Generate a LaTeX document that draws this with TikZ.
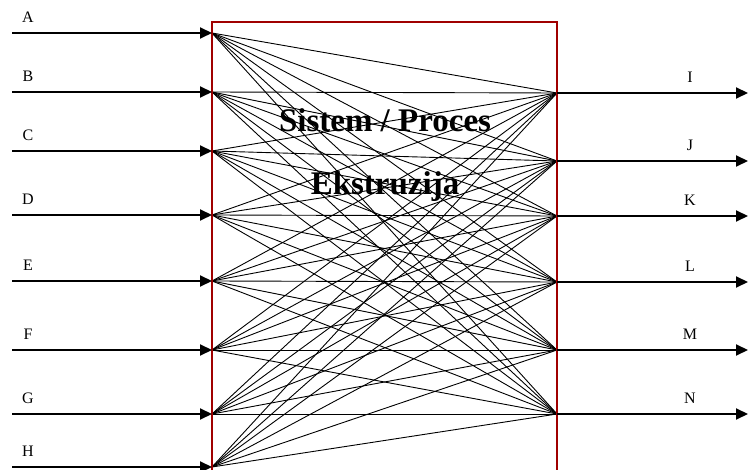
\documentclass[tikz,border=0pt]{standalone}
\usepackage{fontspec}
\setmainfont{Liberation Serif}
\usetikzlibrary{arrows.meta}
\definecolor{boxred}{RGB}{160,0,0}
\tikzset{
  io/.style={line width=2pt, -{Triangle[length=12pt,width=11pt]}},
  link/.style={line width=0.9pt, black},
  frame/.style={line width=2.2pt, boxred},
  lab/.style={font=\fontsize{16}{16}\selectfont, inner sep=0pt},
  title/.style={font=\fontsize{33}{33}\selectfont\bfseries, inner sep=0pt}
}
\begin{document}
\begin{tikzpicture}[x=1pt,y=-1pt]
\useasboundingbox (0,0) rectangle (750,470);
% input coordinates
\foreach \n/\y in {A/33,B/92,C/151,D/215,E/281,F/350,G/414,H/467}{
  \coordinate (s\n) at (12,\y);
  \coordinate (in\n) at (212,\y);
  \node[lab] (l\n) at (28,\y-16) {\n};
}
% output coordinates
\foreach \n/\y in {I/93,J/161,K/216,L/282,M/350,N/414}{
  \coordinate (o\n) at (557,\y);
  \coordinate (e\n) at (748,\y);
  \node[lab] (l\n) at (690,\y-16) {\n};
}
% internal links
\foreach \a in {A,B,C,D,E,F,G,H}{
  \foreach \b in {I,J,K,L,M,N}{
    \draw[link] (in\a) -- (o\b);
  }
}
% frame
\coordinate (fbl) at (212,472);
\coordinate (ftl) at (212,22);
\coordinate (ftr) at (557,22);
\coordinate (fbr) at (557,472);
\draw[frame] (fbl) -- (ftl) -- (ftr) -- (fbr);
% titles
\node[title] (t1) at (385,120) {Sistem / Proces};
\node[title] (t2) at (385,187) {Ekstruzija};
% arrows
\foreach \n in {A,B,C,D,E,F,G,H}{
  \draw[io] (s\n) -- (in\n);
}
\foreach \n in {I,J,K,L,M,N}{
  \draw[io] (o\n) -- (e\n);
}
\end{tikzpicture}
\end{document}
